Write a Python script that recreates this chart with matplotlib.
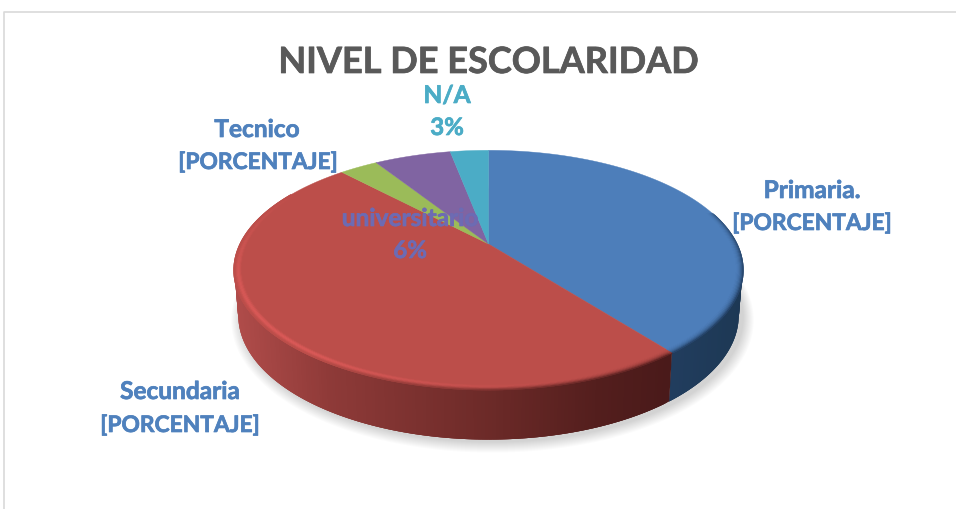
import numpy as np
import matplotlib
matplotlib.use("Agg")
import matplotlib.pyplot as plt
import matplotlib.patheffects as pe
from matplotlib.collections import PolyCollection
from matplotlib.patches import Polygon
from matplotlib.colors import to_rgb

categories = ["Primaria.", "Secundaria", "Tecnico", "universitario", "N/A"]
values = [39.5, 48.5, 3, 6, 3]
value_labels = ["[PORCENTAJE]", "[PORCENTAJE]", "[PORCENTAJE]", "6%", "3%"]
title = "NIVEL DE ESCOLARIDAD"

colors = ["#4d7eba", "#bc4e4a", "#9bbb59", "#8064a2", "#4bacc6"]
label_colors = ["#4f81bd", "#4f81bd", "#4f81bd", "#6d6bb3", "#4bacc6"]

CX, CY, A, B, K = 488.5, 245.0, 248.0, 114.0, 0.217


def top_xy(theta, r=1.0):
    u, v = r * np.sin(theta), r * np.cos(theta)
    den = 1 + K * v
    return CX + A * u / den, CY - B * v / den


def bot_xy(theta):
    v = np.cos(theta)
    x, y = top_xy(theta)
    return CX + (x - CX) * 0.985, y + 44 - 6 * v


def mix(c1, c2, t):
    c1, c2 = np.array(to_rgb(c1)), np.array(to_rgb(c2))
    return tuple(c1 + (c2 - c1) * t)


fig = plt.figure(figsize=(9.56, 5.10), dpi=100)
ax = fig.add_axes([0, 0, 1, 1])
ax.set_xlim(0, 956)
ax.set_ylim(510, 0)
ax.axis("off")

# chart frame
ax.plot([4.5, 4.5, 956], [510, 12.5, 12.5], color="#d9d9d9", lw=1.2, zorder=1)

total = sum(values)
edges = np.concatenate([[0], np.cumsum(values)]) / total * 2 * np.pi

# soft shadow
full = np.linspace(0, 2 * np.pi, 240)
for grow in np.linspace(11, 1, 11):
    bx, by = bot_xy(full)
    sx = CX + (bx - CX) * (1 + grow / 250) + 4
    sy = 270 + (by - 270) * (1 + grow / 170) + 2
    ax.fill(sx, sy, color="#000000", alpha=0.014, lw=0, zorder=2)

# side wall: strips overlap so that no seams appear
side_stops = {
    0: [(660, "#223e60"), (745, "#1d3854")],
    1: [(235, "#b04c4a"), (330, "#8e3a38"), (490, "#6c2a28"), (600, "#531e1d"), (668, "#4a1a1a")],
}
for idx in (0, 1):
    th = np.linspace(edges[idx], edges[idx + 1], 260)
    th = th[(th > np.pi / 2 - 0.12) & (th < 3 * np.pi / 2 + 0.12)]
    polys, cols = [], []
    xs_stop = [s[0] for s in side_stops[idx]]
    rgb_stop = np.array([to_rgb(s[1]) for s in side_stops[idx]])
    for k in range(len(th) - 1):
        a, b = th[k], th[min(k + 3, len(th) - 1)]
        xa, ya = top_xy(a)
        xb, yb = top_xy(b)
        xc, yc = bot_xy(b)
        xd, yd = bot_xy(a)
        polys.append([(xa, ya), (xb, yb), (xc, yc), (xd, yd)])
        xm = top_xy((th[k] + th[k + 1]) / 2)[0]
        cols.append(tuple(np.interp(xm, xs_stop, rgb_stop[:, j]) for j in range(3)))
    ax.add_collection(PolyCollection(polys, facecolors=cols, edgecolors="none", zorder=3))

# top faces
for i, c in enumerate(colors):
    th = np.linspace(edges[i], edges[i + 1], 200)
    x, y = top_xy(th)
    ax.add_patch(Polygon(np.r_[[[CX, CY]], np.c_[x, y]], closed=True, fc=c, ec=c, lw=0.3, zorder=4))

# bevel rim on the front of the pie, drawn inner ring first
rs = np.linspace(0.972, 1.004, 9)
for i, c in enumerate(colors[:2]):
    th = np.linspace(edges[i], edges[i + 1], 240)
    th = th[(th > np.pi / 2 - 0.3) & (th < 3 * np.pi / 2 + 0.5)]
    polys, cols = [], []
    for r0, r1 in zip(rs[:-1], rs[1:]):
        t = (r1 - rs[0]) / (rs[-1] - rs[0])
        for k in range(len(th) - 1):
            a, b = th[k], th[min(k + 3, len(th) - 1)]
            tm = (th[k] + th[k + 1]) / 2
            light = np.clip(np.cos(tm - np.radians(225)), 0, 1) ** 2
            dark = np.clip(np.cos(tm - np.radians(125)), 0, 1)
            xa, ya = top_xy(a, r0)
            xb, yb = top_xy(b, r0)
            xc, yc = top_xy(b, r1)
            xd, yd = top_xy(a, r1)
            polys.append([(xa, ya), (xb, yb), (xc, yc), (xd, yd)])
            col = mix(c, "#e85f5e" if i == 1 else "#6f9fd8", 0.7 * light * np.sin(t * np.pi) ** 2)
            col = mix(col, "#4a1a1a" if i == 1 else "#1f3a5c", 0.85 * dark * t ** 2.5)
            cols.append(col)
    ax.add_collection(PolyCollection(polys, facecolors=cols, edgecolors="none", zorder=5))

# texts
fam = ["Lato", "DejaVu Sans"]


def put(x, y, s, size, col, sw):
    t = ax.text(x, y, s, ha="center", va="baseline", fontsize=size, fontweight="bold",
                color=col, family=fam, zorder=8)
    t.set_path_effects([pe.withStroke(linewidth=sw, foreground=col)])


put(488.5, 74, title, 26, "#595959", 0.5)

positions = [((812, 199), (812, 231)), ((180, 400), (180, 433)), ((257, 138), (258, 170)),
             ((410, 227), (410, 259)), ((447, 104), (447, 136))]
for name, val, col, (p1, p2) in zip(categories, value_labels, label_colors, positions):
    put(p1[0], p1[1], name, 17.6, col, 0.5)
    put(p2[0], p2[1], val, 17.3 if "%" in val else 16.4, col, 0.5)

fig.savefig("out.png", dpi=100)
